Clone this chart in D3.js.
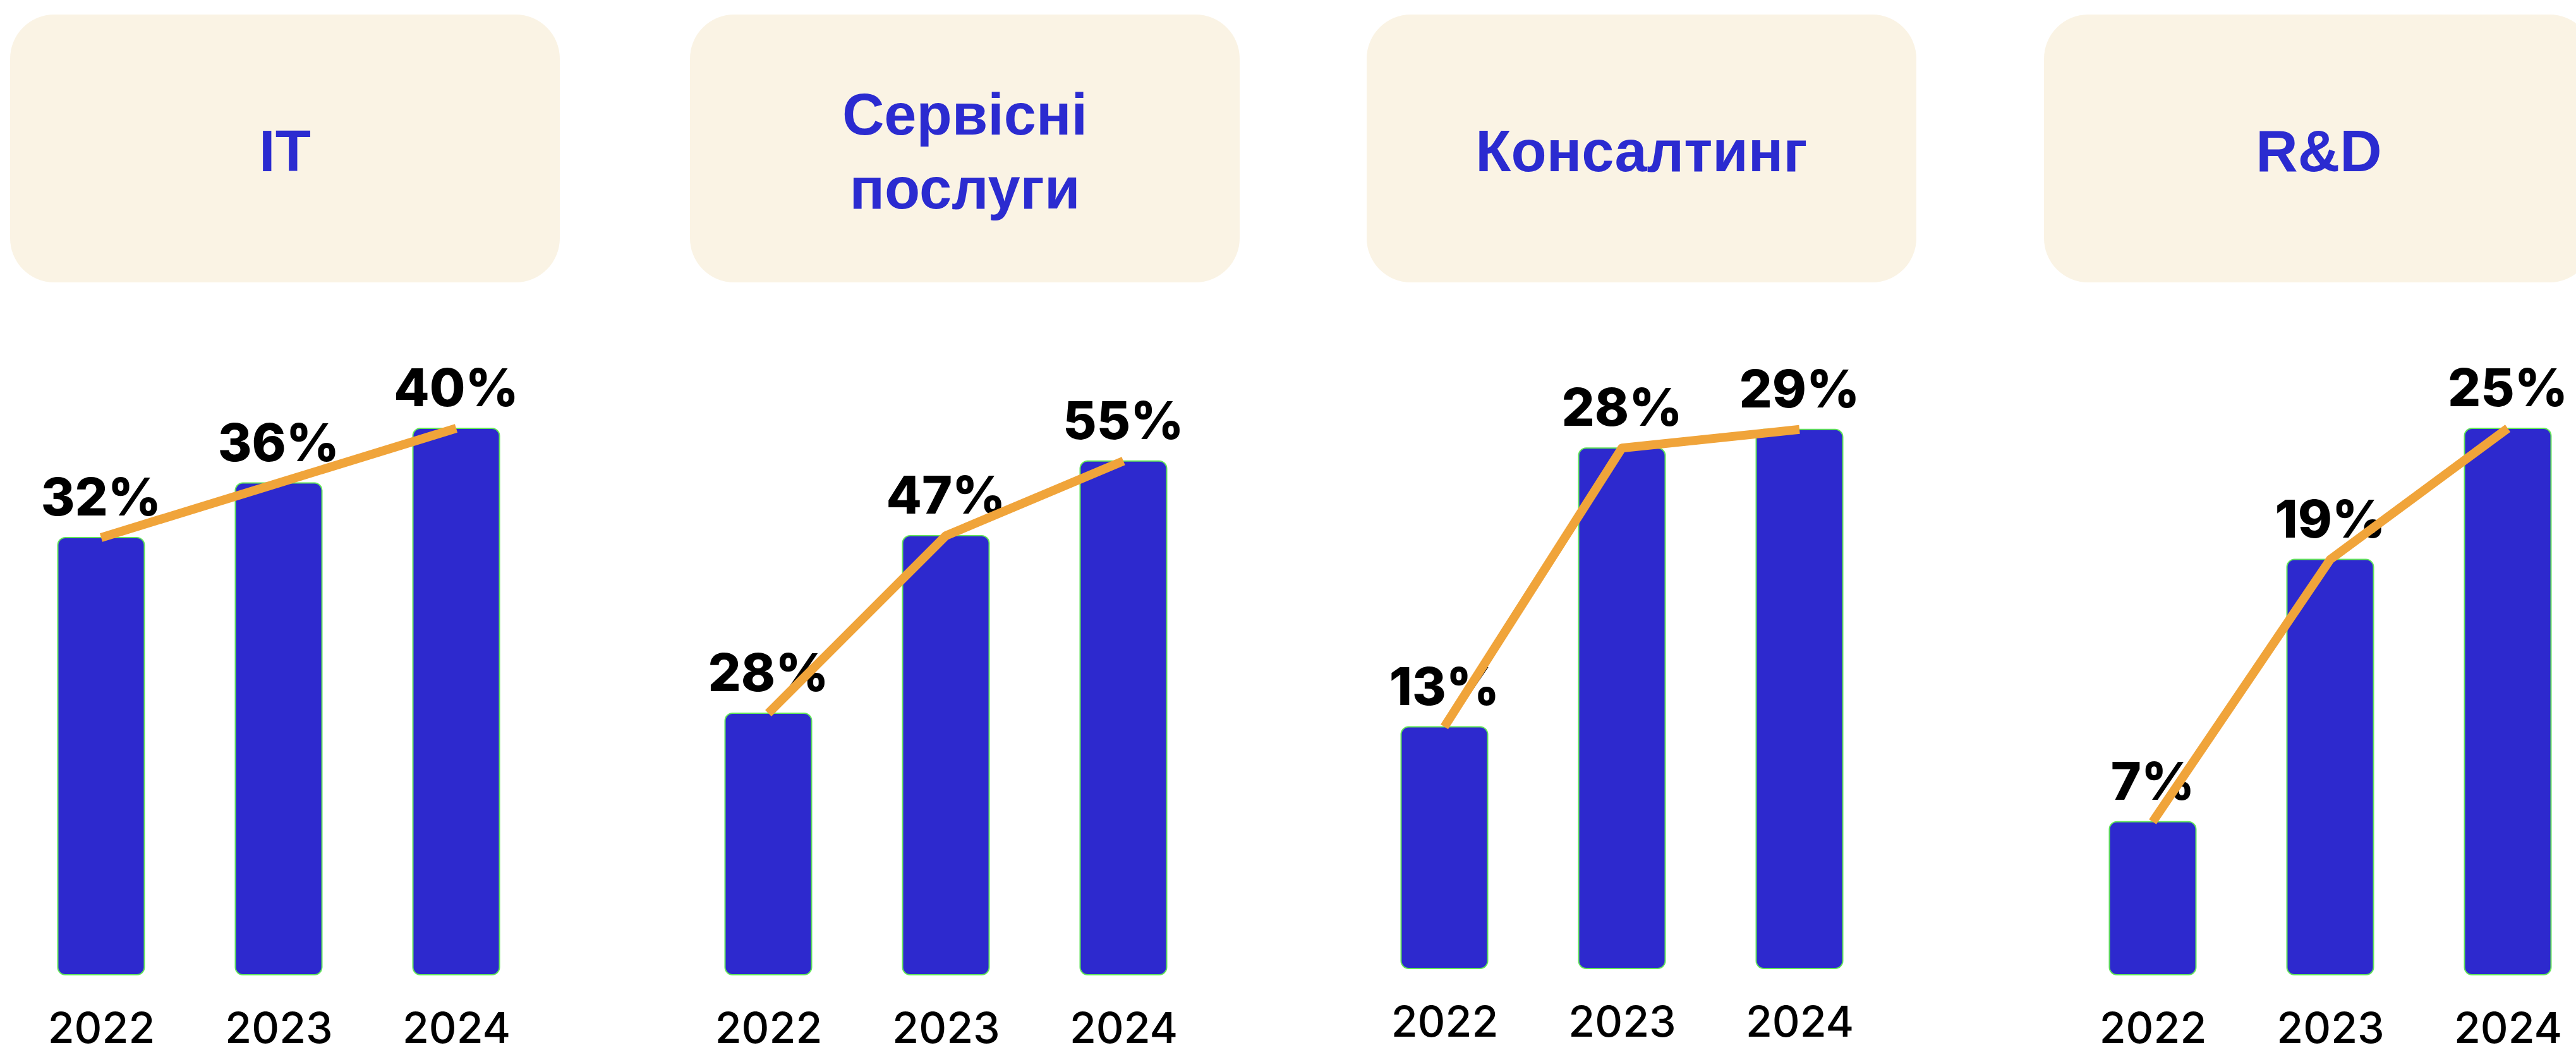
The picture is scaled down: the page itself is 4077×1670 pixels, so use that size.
<!DOCTYPE html>
<html lang="uk">
<head>
<meta charset="utf-8">
<title>Напрями: 2022–2024</title>
<script src="https://d3js.org/d3.v7.min.js"></script>
<style>
  body { margin: 0; background: #fff; }
</style>
</head>
<body>
<div id="mainDiv"></div>
<script>
const width = 4077
const height = 1670

// data
const years = ['2022', '2023', '2024']
const categories = [['IT'], ['Сервісні', 'послуги'], ['Консалтинг'], ['R&D']]
const itValues = [32, 36, 40]
const serviceValues = [28, 47, 55]
const consultingValues = [13, 28, 29]
const rdValues = [7, 19, 25]
const axisMax = [40, 58.5, 29.4, 25] // each panel has its own y scale

const seriesValues = [itValues, serviceValues, consultingValues, rdValues]

// layout
const boxLeft = [16, 1092, 2163, 3235]
const midCenter = [441, 1497, 2567, 3688]
const baseY = [1543, 1543, 1533, 1543]
const boxW = 870, boxTop = 23, boxH = 424
const step = 281, barW = 137, plotH = 865

const svg = d3.select('#mainDiv').append('svg')
    .attr('width', width)
    .attr('height', height)

svg.append('rect').attr('width', width).attr('height', height).attr('fill', '#fff')

seriesValues.forEach((values, i) => {
    const g = svg.append('g')
    const data = years.map((y, j) => ({ year: y, value: values[j] }))

    // title card
    g.append('rect')
        .attr('x', boxLeft[i]).attr('y', boxTop)
        .attr('width', boxW).attr('height', boxH)
        .attr('rx', 70)
        .attr('fill', '#FAF3E4')

    const lines = categories[i]
    const title = g.append('text')
        .attr('text-anchor', 'middle')
        .attr('font-family', '"Liberation Sans", Arial, sans-serif')
        .attr('font-weight', 700)
        .attr('font-size', 92)
        .attr('fill', '#2B2BD0')
    const firstBase = lines.length === 1 ? 271 : 213
    lines.forEach((t, k) => {
        title.append('tspan')
            .attr('x', boxLeft[i] + boxW / 2)
            .attr('y', firstBase + k * 117)
            .text(t)
    })

    const xScale = d3.scalePoint()
        .domain(years)
        .range([midCenter[i] - step, midCenter[i] + step])

    const yScale = d3.scaleLinear()
        .domain([0, axisMax[i]])
        .range([baseY[i], baseY[i] - plotH])

    g.selectAll('rect.bar')
        .data(data)
        .join('rect')
        .attr('class', 'bar')
        .attr('x', d => xScale(d.year) - barW / 2)
        .attr('y', d => yScale(d.value))
        .attr('width', barW)
        .attr('height', d => yScale(0) - yScale(d.value))
        .attr('rx', 12)
        .attr('fill', '#2D29CE')
        .attr('stroke', '#62E35A')
        .attr('stroke-width', 2)

    // value labels
    g.selectAll('text.val')
        .data(data)
        .join('text')
        .attr('class', 'val')
        .attr('x', d => xScale(d.year))
        .attr('y', d => yScale(d.value) - 35)
        .attr('text-anchor', 'middle')
        .attr('font-family', 'Inter, sans-serif')
        .attr('font-weight', 800)
        .attr('font-size', 82)
        .attr('fill', '#000')
        .text(d => d.value + '%')

    // trend line
    const line = d3.line()
        .x(d => xScale(d.year))
        .y(d => yScale(d.value))
    g.append('path')
        .datum(data)
        .attr('d', line)
        .attr('fill', 'none')
        .attr('stroke', '#F0A43A')
        .attr('stroke-width', 14)
        .attr('stroke-linejoin', 'round')

    // year axis
    const xAxis = d3.axisBottom(xScale).tickSize(0).tickPadding(0)
    g.append('g')
        .attr('transform', `translate(0, ${baseY[i] + 108})`)
        .call(xAxis)
        .call(a => a.select('.domain').remove())
        .selectAll('text')
        .attr('dy', 0)
        .attr('font-family', 'Inter, sans-serif')
        .attr('font-weight', 500)
        .attr('font-size', 68)
        .attr('fill', '#000')
})
</script>
</body>
</html>
